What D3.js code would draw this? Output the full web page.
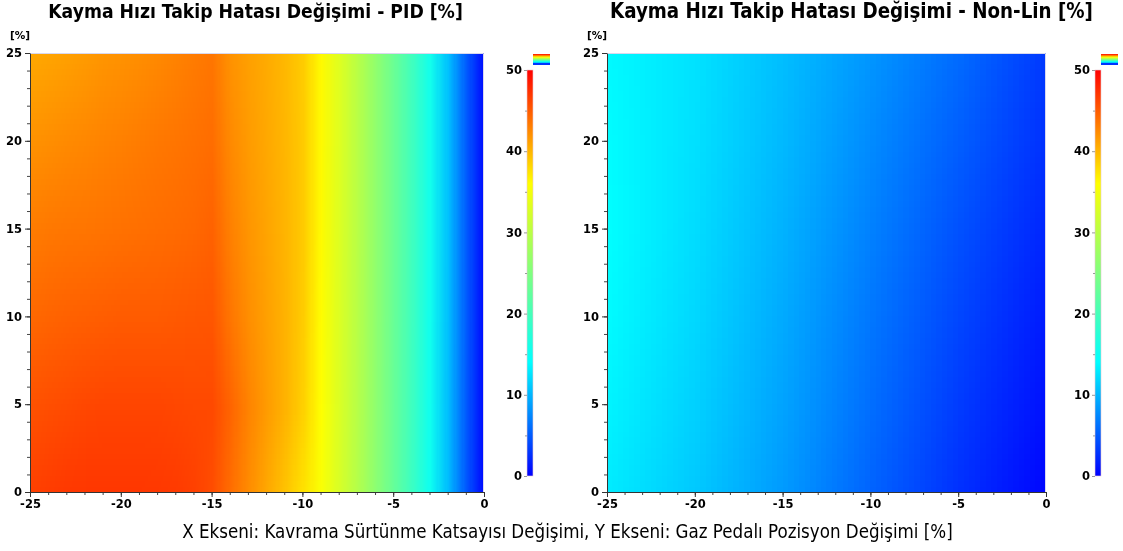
<!DOCTYPE html>
<html>
<head>
<meta charset="utf-8">
<script src="https://cdn.jsdelivr.net/npm/d3@7"></script>
<style>
  body { margin: 0; background: #fff; }
  #wrap { position: relative; width: 1123px; height: 551px; overflow: hidden; }
  #heat, #chart { position: absolute; left: 0; top: 0; }
</style>
</head>
<body>
<div id="wrap">
  <canvas id="heat" width="1123" height="551"></canvas>
  <svg id="chart" width="1123" height="551"></svg>
</div>
<script>
// ---- data ----------------------------------------------------------------
// grid coordinates (x: clutch friction change %, y: pedal position change %)
const pidGridX = [-25,-24,-23,-22,-21,-20,-19,-18,-17,-16,-15,-14,-13,-12,-11,-10,-9,-8,-7,-6,-5,-4,-3,-2,-1,0];
const pidGridY = [0, 5, 10, 15, 20, 25];
// slip speed tracking error change [%] for the PID controller, one row per y value
const pidRowY0  = [46.5,46.7,46.9,47.0,47.0,47.0,47.0,46.9,46.8,46.5,45.8,44.0,42.3,40.8,39.3,37.6,35.6,32.6,29.5,26.2,22.8,19.2,15.2,10.3,4.8,0.3];
const pidRowY5  = [45.5,45.7,45.9,46.1,46.2,46.2,46.2,46.2,46.1,46.0,46.0,44.5,42.8,41.5,40.2,38.6,36.0,32.9,29.8,26.4,23.0,19.4,15.4,10.4,4.9,0.4];
const pidRowY10 = [44.3,44.5,44.7,44.8,44.9,45.0,45.0,45.0,45.1,45.2,45.3,43.6,42.2,41.2,40.2,38.8,36.1,33.0,29.9,26.5,23.1,19.5,15.5,10.5,5.0,0.4];
const pidRowY15 = [43.2,43.4,43.5,43.6,43.7,43.8,43.9,44.0,44.1,44.3,44.6,43.0,41.8,41.0,40.1,38.9,36.2,33.1,30.0,26.6,23.2,19.6,15.6,10.6,5.0,0.5];
const pidRowY20 = [42.0,42.2,42.4,42.6,42.8,43.0,43.2,43.4,43.6,43.8,44.0,42.5,41.5,40.8,40.0,38.9,36.3,33.2,30.0,26.6,23.2,19.6,15.6,10.6,5.0,0.5];
const pidRowY25 = [40.8,41.0,41.2,41.5,41.8,42.0,42.2,42.5,42.8,43.2,43.5,42.0,41.2,40.6,39.9,38.8,36.3,33.2,30.0,26.6,23.2,19.6,15.6,10.6,5.0,0.5];

const nlGridX = [-25, -20, -15, -10, -5, 0];
const nlGridY = [0, 5, 10, 15, 20, 25];
// slip speed tracking error change [%] for the non-linear controller
const nlRowY0  = [12.9, 11.0, 8.4, 5.4, 2.6, 0.2];
const nlRowY5  = [13.4, 11.4, 8.9, 6.0, 3.2, 0.8];
const nlRowY10 = [13.8, 11.8, 9.3, 6.5, 3.8, 1.4];
const nlRowY15 = [14.0, 12.1, 9.7, 7.0, 4.4, 2.0];
const nlRowY20 = [13.9, 12.3, 10.1, 7.6, 5.1, 2.6];
const nlRowY25 = [13.7, 12.4, 10.4, 8.2, 5.8, 3.0];

// axis ticks
const axisTicks = [-25, -20, -15, -10, -5, 0];
const yTicks = [0, 5, 10, 15, 20, 25];
const barTicks = [0, 10, 20, 30, 40, 50];
const barMinorTicks = [5, 15, 25, 35, 45];
// colour map stops (value -> colour)
const colorStops = [0, 14, 36, 50];
const colorRange = ["#0000ff", "#00ffff", "#ffff00", "#ff0000"];

const titles = ["Kayma Hızı Takip Hatası Değişimi - PID [%]", "Kayma Hızı Takip Hatası Değişimi - Non-Lin [%]"];
const footer = "X Ekseni: Kavrama Sürtünme Katsayısı Değişimi, Y Ekseni: Gaz Pedalı Pozisyon Değişimi [%]";

// ---- drawing -------------------------------------------------------------
const svg = d3.select("#chart");
const ctx = document.getElementById("heat").getContext("2d");
const color = d3.scaleLinear().domain(colorStops).range(colorRange).clamp(true);

const FONT_C = "'DejaVu Sans Condensed', 'DejaVu Sans', sans-serif";
const FONT = "'DejaVu Sans', sans-serif";
const plain = d => String(d);   // plain hyphen for negative numbers

const panels = [
  { x0: 30, x1: 484, bx: 527, gx: pidGridX, gy: pidGridY,
    rows: [pidRowY0, pidRowY5, pidRowY10, pidRowY15, pidRowY20, pidRowY25],
    title: titles[0], tx: 255.5, tw: 415 },
  { x0: 607, x1: 1046, bx: 1095, gx: nlGridX, gy: nlGridY,
    rows: [nlRowY0, nlRowY5, nlRowY10, nlRowY15, nlRowY20, nlRowY25],
    title: titles[1], tx: 851.5, tw: 483 }
];
const plotTop = 53, plotBottom = 492;
const barTop = 70, barBottom = 476, barW = 6;

const defs = svg.append("defs");

function fitText(sel, width) {
  const w = sel.node().getComputedTextLength();
  const fs = parseFloat(sel.attr("font-size"));
  sel.attr("font-size", (fs * width / w).toFixed(2));
}

function styleTicks(a) {
  a.selectAll("text").attr("font-family", FONT).attr("font-weight", "bold")
    .attr("font-size", 11.5).attr("fill", "#000");
}

panels.forEach((p, k) => {
  const x = d3.scaleLinear().domain([-25, 0]).range([p.x0, p.x1]);
  const y = d3.scaleLinear().domain([0, 25]).range([plotBottom, plotTop]);

  // heat map: one pixel per grid node, scaled up with smoothing
  const nx = p.gx.length, ny = p.gy.length;
  const off = document.createElement("canvas");
  off.width = nx; off.height = ny;
  const octx = off.getContext("2d");
  const img = octx.createImageData(nx, ny);
  p.rows.forEach((row, j) => {
    row.forEach((v, i) => {
      const c = d3.color(color(v));
      const idx = ((ny - 1 - j) * nx + i) * 4;
      img.data[idx] = c.r; img.data[idx + 1] = c.g; img.data[idx + 2] = c.b; img.data[idx + 3] = 255;
    });
  });
  octx.putImageData(img, 0, 0);
  const dx = p.gx[1] - p.gx[0], dy = p.gy[1] - p.gy[0];
  const left = x(p.gx[0] - dx / 2), right = x(p.gx[nx - 1] + dx / 2);
  const top = y(p.gy[ny - 1] + dy / 2), bottom = y(p.gy[0] - dy / 2);
  ctx.save();
  ctx.beginPath();
  ctx.rect(p.x0, plotTop, p.x1 - p.x0, plotBottom - plotTop);
  ctx.clip();
  ctx.imageSmoothingEnabled = true;
  ctx.drawImage(off, left, top, right - left, bottom - top);
  ctx.restore();

  const g = svg.append("g");

  // light frame on the open sides of the plot
  g.append("path")
    .attr("d", `M${p.x0},${plotTop + 0.5}H${p.x1 - 0.5}V${plotBottom}`)
    .attr("fill", "none").attr("stroke", "#d8d8ee").attr("stroke-width", 1);

  // minor ticks
  const minor = d3.range(-25, 1, 1);
  const minorY = d3.range(0, 26, 1);
  g.append("g").attr("transform", `translate(0,${plotBottom})`)
    .call(d3.axisBottom(x).tickValues(minor).tickSize(3).tickSizeOuter(0).tickFormat(""))
    .call(a => a.selectAll("line").attr("stroke", "#444"))
    .call(a => a.select(".domain").remove());
  g.append("g").attr("transform", `translate(${p.x0},0)`)
    .call(d3.axisLeft(y).tickValues(minorY).tickSize(3).tickSizeOuter(0).tickFormat(""))
    .call(a => a.selectAll("line").attr("stroke", "#444"))
    .call(a => a.select(".domain").remove());

  // major axes
  const xa = g.append("g").attr("transform", `translate(0,${plotBottom})`)
    .call(d3.axisBottom(x).tickValues(axisTicks).tickFormat(plain)
      .tickSize(5).tickSizeOuter(0).tickPadding(3));
  const ya = g.append("g").attr("transform", `translate(${p.x0},0)`)
    .call(d3.axisLeft(y).tickValues(yTicks).tickFormat(plain)
      .tickSize(5).tickSizeOuter(0).tickPadding(3));
  [xa, ya].forEach(a => {
    a.select(".domain").attr("stroke", "#333");
    a.selectAll(".tick line").attr("stroke", "#333");
    styleTicks(a);
  });

  // y unit label
  g.append("text").attr("x", p.x0 - 20).attr("y", 39)
    .attr("font-family", FONT).attr("font-weight", "bold").attr("font-size", 10.5)
    .text("[%]");

  // colour bar
  const cb = d3.scaleLinear().domain([0, 50]).range([barBottom, barTop]);
  const gid = "grad" + k;
  const grad = defs.append("linearGradient").attr("id", gid)
    .attr("x1", 0).attr("y1", 1).attr("x2", 0).attr("y2", 0);
  colorStops.forEach((s, i) => grad.append("stop")
    .attr("offset", s / 50).attr("stop-color", colorRange[i]));
  g.append("rect").attr("x", p.bx).attr("y", barTop).attr("width", barW)
    .attr("height", barBottom - barTop).attr("fill", `url(#${gid})`)
    .attr("stroke", "#e6c8d0").attr("stroke-width", 0.6);
  g.append("g").attr("transform", `translate(${p.bx},0)`)
    .call(d3.axisLeft(cb).tickValues(barMinorTicks).tickSize(2).tickFormat(""))
    .call(a => a.select(".domain").remove())
    .call(a => a.selectAll("line").attr("stroke", "#999"));
  const ca = g.append("g").attr("transform", `translate(${p.bx},0)`)
    .call(d3.axisLeft(cb).tickValues(barTicks).tickFormat(plain).tickSize(3).tickPadding(2));
  ca.select(".domain").remove();
  ca.selectAll("line").attr("stroke", "#999");
  styleTicks(ca);

  // small legend swatch above the colour bar
  const sid = "sw" + k;
  const sw = defs.append("linearGradient").attr("id", sid)
    .attr("x1", 0).attr("y1", 1).attr("x2", 0).attr("y2", 0);
  colorStops.forEach((s, i) => sw.append("stop")
    .attr("offset", s / 50).attr("stop-color", colorRange[i]));
  g.append("rect").attr("x", p.bx + 6).attr("y", 54).attr("width", 17).attr("height", 11)
    .attr("fill", `url(#${sid})`);
  g.append("rect").attr("x", p.bx + 6).attr("y", 63).attr("width", 17).attr("height", 2)
    .attr("fill", "#0033ff");

  // title
  const t = svg.append("text").attr("x", p.tx).attr("y", 18)
    .attr("text-anchor", "middle").attr("font-family", FONT_C)
    .attr("font-weight", "bold").attr("font-size", 17).attr("fill", "#000")
    .text(p.title);
  fitText(t, p.tw);
});

const f = svg.append("text").attr("x", 567.5).attr("y", 538)
  .attr("text-anchor", "middle").attr("font-family", FONT_C)
  .attr("font-size", 19).attr("fill", "#000").text(footer);
fitText(f, 771);
</script>
</body>
</html>
